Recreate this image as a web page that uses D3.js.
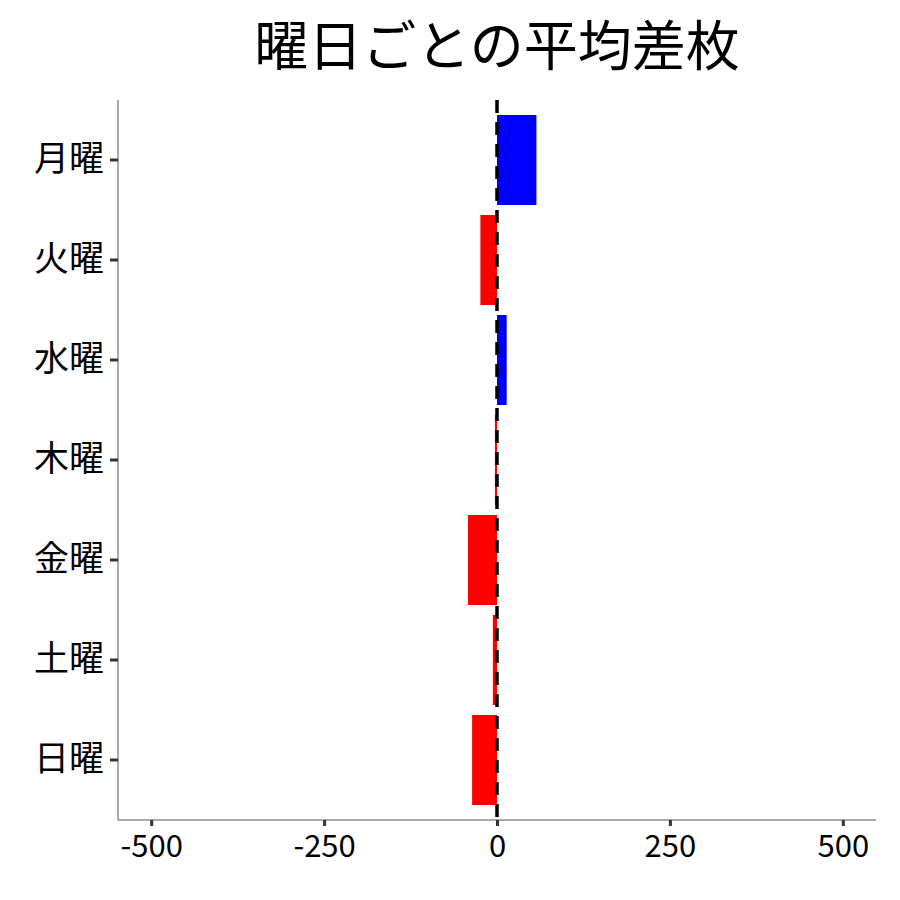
<!DOCTYPE html>
<html><head><meta charset="utf-8">
<script src="https://cdn.jsdelivr.net/npm/d3@7"></script>
<style>body{margin:0;background:#fff}text{font-family:"Noto Sans CJK JP",sans-serif}</style>
</head><body><svg id="c" width="900" height="900"></svg>
<script>
const days=['月曜','火曜','水曜','木曜','金曜','土曜','日曜'];
const diffs=[57,-24,14,-3,-42,-6,-36];
const xTicks=[-500,-250,0,250,500];

const svg=d3.select('#c');
const x=d3.scaleLinear().domain([-548,548]).range([118,876]);
const y=d3.scaleBand().domain(days).range([110,810]).paddingInner(0.1).paddingOuter(0.05);

svg.append('text').attr('x',497).attr('y',66).attr('text-anchor','middle')
  .style('font-size','54px').text('曜日ごとの平均差枚');

svg.append('g').selectAll('rect').data(days).enter().append('rect')
  .attr('x',(d,i)=>x(Math.min(0,diffs[i])))
  .attr('width',(d,i)=>Math.abs(x(diffs[i])-x(0)))
  .attr('y',d=>y(d)).attr('height',y.bandwidth())
  .attr('fill',(d,i)=>diffs[i]>=0?'#0000ff':'#ff0000');

svg.append('line').attr('x1',x(0)).attr('x2',x(0)).attr('y1',100).attr('y2',820)
  .attr('stroke','#000').attr('stroke-width',3.5).attr('stroke-dasharray','13,9');

const xa=svg.append('g').attr('transform','translate(0,820)')
  .call(d3.axisBottom(x).tickValues(xTicks).tickFormat(d=>String(d)).tickSize(6).tickSizeOuter(0));
const ya=svg.append('g').attr('transform','translate(118,0)')
  .call(d3.axisLeft(y).tickSize(8).tickSizeOuter(0).tickPadding(6));
ya.select('.domain').attr('d','M0,100V820');
xa.select('.domain').attr('d','M118,0H876');
[xa,ya].forEach(a=>{
  a.select('.domain').attr('stroke','#555');
  a.selectAll('.tick line').attr('stroke','#333').attr('stroke-width',3);
  a.selectAll('.tick text').attr('fill','#000');
});
ya.selectAll('.tick text').style('font-size','35px');
xa.selectAll('.tick text').style('font-size','31px').attr('dy','0.9em');
</script></body></html>
